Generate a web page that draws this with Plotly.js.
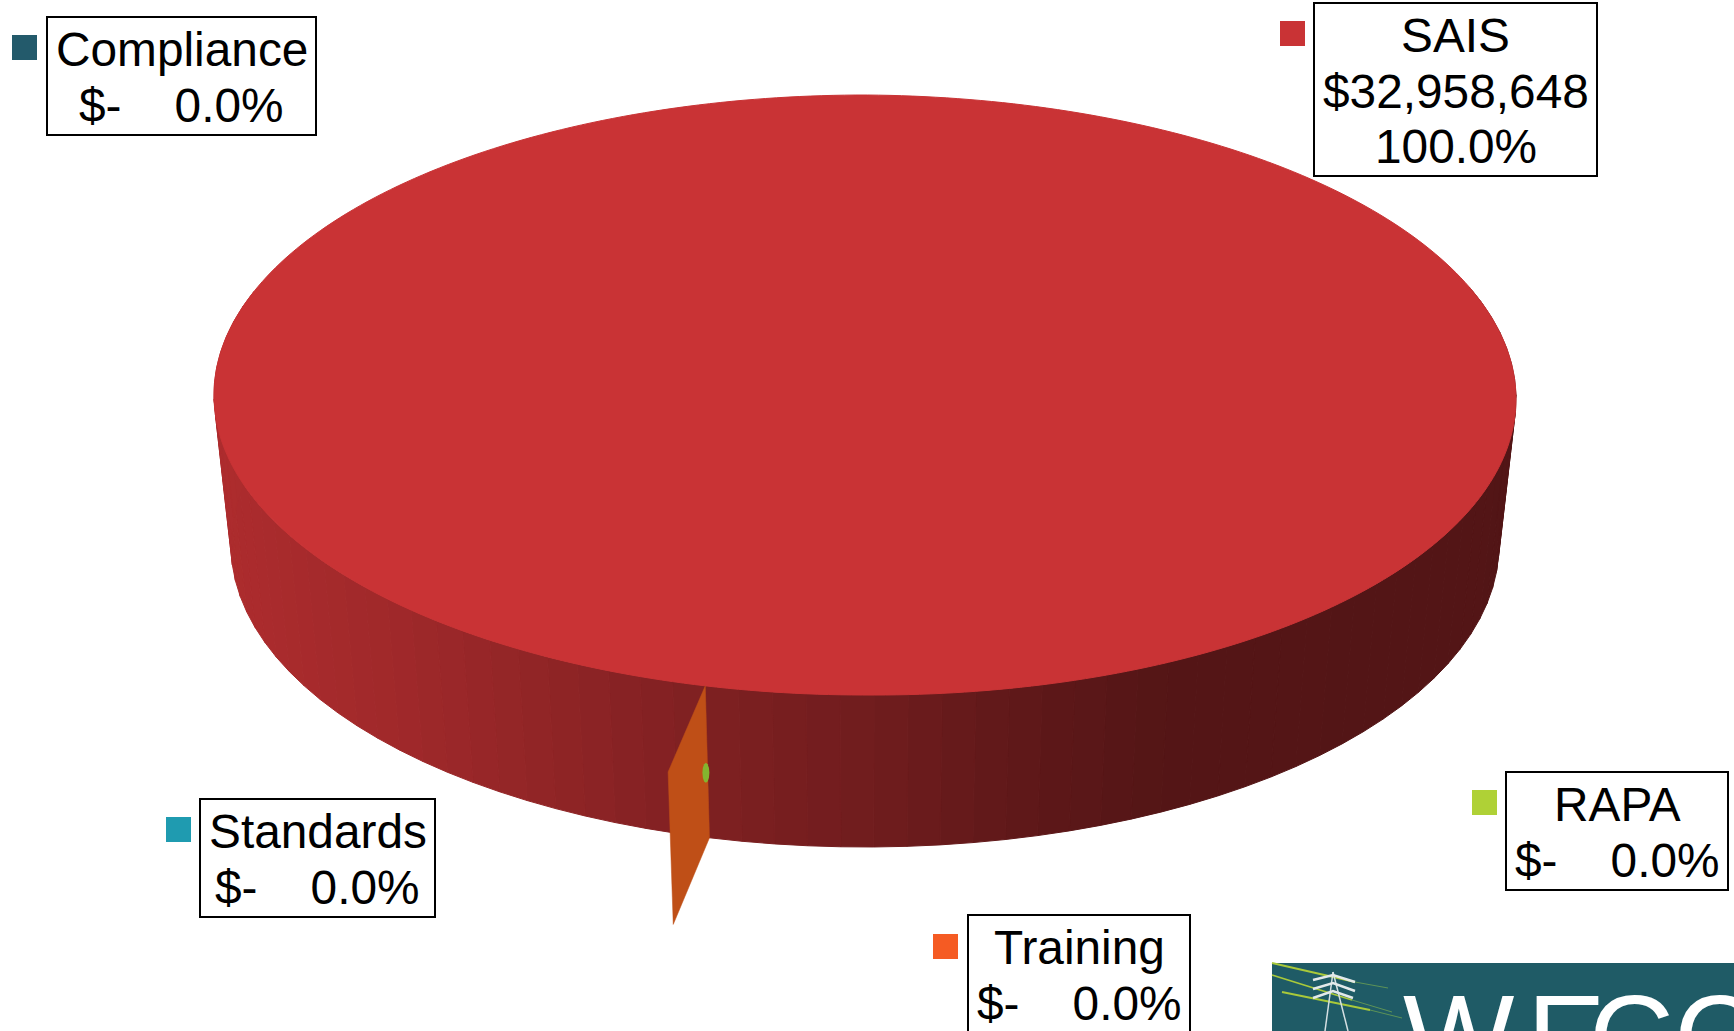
<!DOCTYPE html>
<html>
<head>
<meta charset="utf-8">
<title>WECC budget by program</title>
<script src="https://cdn.plot.ly/plotly-3.0.1.min.js"></script>
<style>html,body{margin:0;padding:0;background:#fff;overflow:hidden}#chart{width:1734px;height:1031px}</style>
</head>
<body>
<div id="chart"></div>
<script>
// Program budget figures
const programs = ['Compliance', 'Standards', 'Training', 'RAPA', 'SAIS'];
const amounts = [0, 0, 0, 0, 32958648];
const colors = ['#235a6b', '#1f9bb0', '#f55b23', '#afd136', '#c93335'];

// Geometry of the tilted pie, in pixel units of the full-page axes
const top3d = {cx: 865, cy: 395, rx: 651, ry: 300};
const base3d = {cx: 865, cy: 545, rx: 634, ry: 302};
const rightDroop = 4;          // the right half of the top face sags slightly in perspective
const startDeg = 104.2;        // where the first slice begins, clockwise from the right
const pull = {x: 0.233, y: 0.296};  // how far zero-size slices are pulled away from the centre

// Label placement per program: box [x0, x1, y0, y1]
const labelBoxes = {
  Compliance: [47, 316, 17, 135],
  Standards: [200, 435, 799, 917],
  Training: [968, 1190, 915, 1033],
  RAPA: [1506, 1728, 772, 890],
  SAIS: [1314, 1597, 3, 176]
};
const keyCentres = {
  Compliance: [24.5, 47.5],
  Standards: [178.5, 829.5],
  Training: [945.5, 946.5],
  RAPA: [1484.5, 802.5],
  SAIS: [1292.5, 33.5]
};

const total = amounts.reduce((a, b) => a + b, 0);
const rad = d => d * Math.PI / 180;

function rim(e, deg) {
  const c = Math.cos(rad(deg)), s = Math.sin(rad(deg));
  const droop = e === top3d ? rightDroop * Math.max(c, 0) : 0;
  return [e.cx + e.rx * c, e.cy + e.ry * s + droop];
}

// Side walls darken towards the lower right, following the light direction
const shadeStops = [[-1, 0.86], [-0.75, 0.8], [-0.5, 0.72], [-0.25, 0.63], [0, 0.56], [0.25, 0.47], [0.45, 0.42], [1, 0.41]];
function shade(hex, deg) {
  const c = Math.cos(rad(deg));
  let k = shadeStops[shadeStops.length - 1][1];
  for (let i = 1; i < shadeStops.length; i++) {
    if (c <= shadeStops[i][0]) {
      const [a, ka] = shadeStops[i - 1], [b, kb] = shadeStops[i];
      k = ka + (kb - ka) * (c - a) / (b - a);
      break;
    }
  }
  const n = parseInt(hex.slice(1), 16);
  return `rgb(${Math.round((n >> 16) * k)},${Math.round(((n >> 8) & 255) * k)},${Math.round((n & 255) * k)})`;
}

function poly(points, fill, width) {
  return {
    type: 'scatter', mode: 'lines', hoverinfo: 'skip', showlegend: false,
    x: points.map(p => p[0]).concat(points[0][0]),
    y: points.map(p => p[1]).concat(points[0][1]),
    fill: 'toself', fillcolor: fill,
    line: {color: fill, width: width === undefined ? 1 : width, simplify: false}
  };
}

// Slice sweeps from the amounts
let cursor = startDeg;
const slices = programs.map((name, i) => {
  const sweep = 360 * amounts[i] / total;
  const s = {name, color: colors[i], from: cursor, sweep};
  cursor += sweep;
  return s;
});

const traces = [];
const step = 3;

// Outer walls of the slices that have size
slices.filter(s => s.sweep > 0).forEach(s => {
  for (let d = 0; d < s.sweep; d += step) {
    const a = s.from + d, b = Math.min(s.from + d + step, s.from + s.sweep);
    if (Math.sin(rad((a + b) / 2)) < -0.35) continue;
    traces.push(poly([rim(top3d, a), rim(top3d, b), rim(base3d, b), rim(base3d, a)], shade(s.color, (a + b) / 2)));
  }
});

// Top faces
slices.filter(s => s.sweep > 0).forEach(s => {
  const pts = [];
  for (let d = 0; d <= s.sweep; d += 1) pts.push(rim(top3d, s.from + d));
  traces.push(poly(pts, s.color));
});

// Zero-size slices still show their radial face, pulled away from the rim
function pulled(p, e, deg) {
  return [p[0] + e.rx * Math.cos(rad(deg)) * pull.x, p[1] + e.ry * Math.sin(rad(deg)) * pull.y];
}
const training = slices[programs.indexOf('Training')];
const tA = rim(top3d, training.from), bA = rim(base3d, training.from);
traces.push(poly([tA, pulled(tA, top3d, training.from), pulled(bA, base3d, training.from), bA], '#bf4f17', 0.5));

// The RAPA sliver only peeks out as a small speck on that face
const rapa = slices[programs.indexOf('RAPA')];
const rt = rim(top3d, rapa.from), rb = rim(base3d, rapa.from);
const speck = [];
for (let d = 0; d < 360; d += 30) {
  speck.push([(rt[0] + rb[0]) / 2 - 1.5 + 3.5 * Math.cos(rad(d)), (rt[1] + rb[1]) / 2 + 11 + 10 * Math.sin(rad(d))]);
}
traces.push(poly(speck, '#84b52f', 0));

// Legend keys
traces.push({
  type: 'scatter', mode: 'markers', hoverinfo: 'skip', showlegend: false,
  x: programs.map(p => keyCentres[p][0]),
  y: programs.map(p => keyCentres[p][1]),
  marker: {symbol: 'square', size: 25, color: colors, line: {width: 0}}
});

const shapes = [];
const annotations = [];
const textFont = {family: '"Liberation Sans", Arial, sans-serif', size: 47.8, color: '#000'};
const money = v => v === 0 ? '$-' : '$' + v.toLocaleString('en-US');
const pct = v => (100 * v / total).toFixed(1) + '%';

programs.forEach((name, i) => {
  const [x0, x1, y0, y1] = labelBoxes[name];
  shapes.push({type: 'rect', x0, x1, y0, y1, line: {color: '#000', width: 2}, fillcolor: '#fff', layer: 'above'});
  const gap = '\u00a0\u00a0\u00a0\u00a0';
  const lines = amounts[i] === 0
    ? [name, money(amounts[i]) + gap + pct(amounts[i])]
    : [name, money(amounts[i]), pct(amounts[i])];
  const pitch = 55.5;
  const mid = (y0 + y1) / 2 + 1.5;
  lines.forEach((t, k) => {
    annotations.push({
      text: t, x: (x0 + x1) / 2, y: mid + (k - (lines.length - 1) / 2) * pitch,
      xref: 'x', yref: 'y', xanchor: 'center', yanchor: 'middle', showarrow: false, font: textFont
    });
  });
});

// Organisation banner in the lower right corner
shapes.push({type: 'rect', x0: 1272, x1: 1734, y0: 963, y1: 1031, line: {width: 0}, fillcolor: '#1f5b66', layer: 'above'});
[[1272, 963, 1355, 982, 1.8, '#a9c93a'], [1355, 982, 1388, 988, 1, '#5d9357'],
 [1272, 975, 1352, 1000, 1.8, '#a9c93a'], [1352, 1000, 1392, 1012, 1, '#5d9357'],
 [1282, 992, 1370, 1010, 1.8, '#a9c93a'], [1370, 1010, 1402, 1018, 1, '#5d9357']].forEach(([x0, y0, x1, y1, width, color]) => {
  shapes.push({type: 'line', x0, y0, x1, y1, line: {color, width}, layer: 'above'});
});
[[1333, 972, 1325, 1031], [1333, 972, 1348, 1031]].forEach(([x0, y0, x1, y1]) => {
  shapes.push({type: 'line', x0, y0, x1, y1, line: {color: '#d5dfe2', width: 1.5}, layer: 'above'});
});
['M1313,980 L1333,975 L1355,982', 'M1313,989 L1333,983 L1355,991', 'M1313,998 L1333,991 L1353,998'].forEach(path => {
  shapes.push({type: 'path', path, line: {color: '#e3e9ea', width: 2.5}, layer: 'above'});
});
const bannerFamily = '"Liberation Sans", Arial, sans-serif';
const bannerLetters = [['W', 1401, bannerFamily], ['E', 1525, '"Liberation Sans Narrow", ' + bannerFamily], ['C', 1587, bannerFamily], ['C', 1672, bannerFamily]];
bannerLetters.forEach(([text, x, family]) => {
  annotations.push({text, x, y: 969, xref: 'x', yref: 'y', xanchor: 'left', yanchor: 'top', showarrow: false,
    font: {family, size: 118, color: '#fff'}});
});

const layout = {
  width: 1734, height: 1031,
  margin: {l: 0, r: 0, t: 0, b: 0},
  paper_bgcolor: '#fff', plot_bgcolor: '#fff',
  showlegend: false,
  xaxis: {range: [0, 1734], visible: false, fixedrange: true},
  yaxis: {range: [1031, 0], visible: false, fixedrange: true},
  shapes, annotations
};
Plotly.newPlot('chart', traces, layout, {displayModeBar: false, staticPlot: true});
</script>
</body>
</html>
